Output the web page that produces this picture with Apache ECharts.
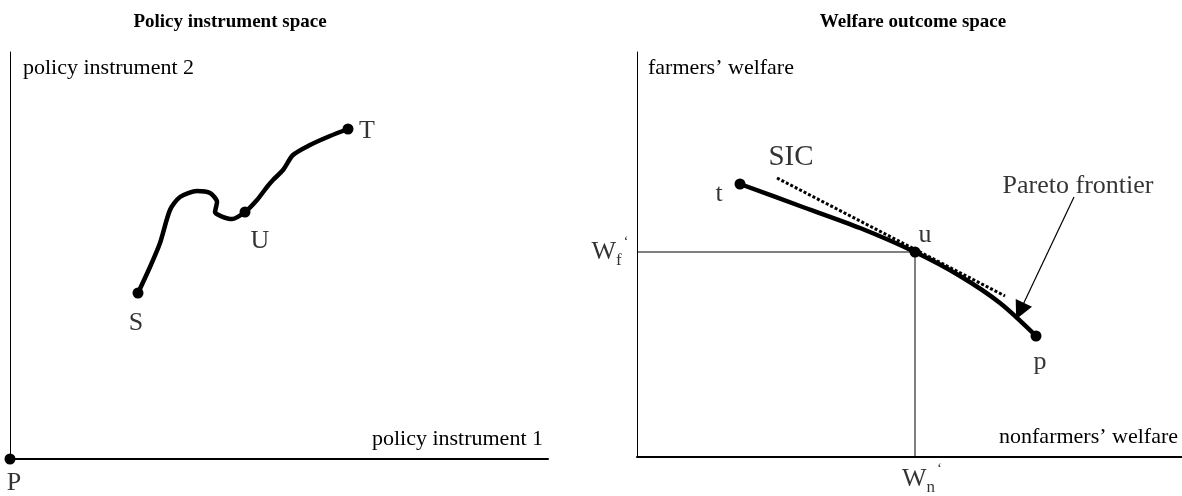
<!DOCTYPE html>
<html>
<head>
<meta charset="utf-8">
<script src="https://cdn.jsdelivr.net/npm/echarts@6/dist/echarts.min.js"></script>
<style>
    html, body { margin: 0; padding: 0; background: #fff; }
    #chart { width: 1182px; height: 496px; }
</style>
</head>
<body>
<div id="chart"></div>
<script>
// left panel: policy instrument space (units measured from origin P)
const policyPath = [
    [128, 166], [140, 192], [150, 216], [160, 249], [170, 262], [187, 268],
    [200, 266], [207, 257], [205, 247], [222, 240], [235, 247], [247, 259],
    [257, 272], [263, 279], [273, 289], [283, 304], [300, 314], [320, 323], [338, 330]
]
const policyDots = [[0, 0], [128, 166], [235, 247], [338, 330]]
const policyLabels = [['P', [4, -24]], ['S', [126, 136]], ['U', [250, 218]], ['T', [357, 328]]]

// right panel: welfare outcome space (units measured from origin)
const paretoFrontier = [[103, 273], [163, 251], [223, 229], [278, 205], [323, 181], [363, 154], [399, 121]]
const welfareDots = [[103, 273], [278, 205], [399, 121]]
const sicLine = [[140, 279], [368, 161]]
const optimumGuide = [[0, 205], [278, 205], [278, 0]]
const arrowLine = [[437, 260], [383, 146]]
const welfareLabels = [['t', [82, 263]], ['u', [288, 222]], ['p', [403, 95]], ['SIC', [154, 300]], ['Pareto frontier', [441, 271]]]

const FONT = 'Liberation Serif'

const chart = echarts.init(document.getElementById('chart'))

function hiddenAxis(idx, max, lineWidth) {
    return {
        type: 'value', gridIndex: idx, min: 0, max: max,
        axisLine: { show: true, onZero: false, lineStyle: { color: '#000', width: lineWidth } },
        axisTick: { show: false }, axisLabel: { show: false }, splitLine: { show: false }
    }
}

function labelSeries(idx, list, size) {
    return {
        type: 'scatter', xAxisIndex: idx, yAxisIndex: idx, symbolSize: 0, clip: false, silent: true,
        data: list.map(d => ({ name: d[0], value: d[1] })),
        label: {
            show: true, position: 'inside', formatter: '{b}',
            color: '#000', fontFamily: FONT, fontSize: size
        }
    }
}

const option = {
    animation: false,
    backgroundColor: '#fff',
    title: [
        { text: 'Policy instrument space', left: 225, top: 8, textAlign: 'center',
          textStyle: { fontFamily: FONT, fontWeight: 'bold', fontSize: 19, color: '#000' } },
        { text: 'Welfare outcome space', left: 908, top: 8, textAlign: 'center',
          textStyle: { fontFamily: FONT, fontWeight: 'bold', fontSize: 19, color: '#000' } }
    ],
    grid: [
        { left: 10, top: 52, width: 538, height: 407 },
        { left: 637, top: 52, width: 545, height: 405 }
    ],
    xAxis: [hiddenAxis(0, 538, 2), hiddenAxis(1, 545, 2)],
    yAxis: [hiddenAxis(0, 407, 1), hiddenAxis(1, 405, 1)],
    graphic: [
        { type: 'text', left: 23, top: 57,
          style: { text: 'policy instrument 2', font: '22px ' + FONT, fill: '#000' } },
        { type: 'text', right: 1182 - 543, top: 428,
          style: { text: 'policy instrument 1', font: '22px ' + FONT, fill: '#000' } },
        { type: 'text', left: 648, top: 57,
          style: { text: 'farmers\u2019 welfare', font: '22px ' + FONT, fill: '#000' } },
        { type: 'text', right: 4, top: 426,
          style: { text: 'nonfarmers\u2019 welfare', font: '22px ' + FONT, fill: '#000' } }
    ],
    series: [
        {
            type: 'line', xAxisIndex: 0, yAxisIndex: 0, data: policyPath, smooth: 0.25,
            symbol: 'none', lineStyle: { color: '#000', width: 4.5 }
        },
        {
            type: 'scatter', xAxisIndex: 0, yAxisIndex: 0, data: policyDots, symbolSize: 11,
            clip: false, itemStyle: { color: '#000', opacity: 1 }
        },
        labelSeries(0, policyLabels, 26),

        {
            type: 'line', xAxisIndex: 1, yAxisIndex: 1, data: optimumGuide,
            symbol: 'none', lineStyle: { color: '#000', width: 1 }
        },
        {
            type: 'line', xAxisIndex: 1, yAxisIndex: 1, data: sicLine,
            symbol: 'none', lineStyle: { color: '#000', width: 3, type: [3, 2] }
        },
        {
            type: 'line', xAxisIndex: 1, yAxisIndex: 1, data: paretoFrontier, smooth: 0.3,
            symbol: 'none', lineStyle: { color: '#000', width: 4.5 }
        },
        {
            type: 'scatter', xAxisIndex: 1, yAxisIndex: 1, data: welfareDots, symbolSize: 11,
            itemStyle: { color: '#000', opacity: 1 }
        },
        {
            type: 'lines', coordinateSystem: 'cartesian2d', xAxisIndex: 1, yAxisIndex: 1,
            symbol: ['none', 'triangle'], symbolSize: [11, 18],
            lineStyle: { color: '#000', width: 1.2, opacity: 1 },
            data: [{ coords: arrowLine }]
        },
        {
            type: 'scatter', xAxisIndex: 1, yAxisIndex: 1, symbolSize: 0, clip: false, silent: true,
            data: [
                { name: 'Wf', value: [-27, 205] },
                { name: 'Wn', value: [285, -22] }
            ],
            label: {
                show: true, position: 'inside', color: '#000', fontFamily: FONT,
                formatter: p => p.name === 'Wf' ? '{w|W}{s|f}{q|\u2018}' : '{w|W}{s|n}{q|\u2018}',
                rich: {
                    w: { fontFamily: FONT, fontSize: 26, lineHeight: 34, color: '#000' },
                    s: { fontFamily: FONT, fontSize: 17, lineHeight: 17, verticalAlign: 'bottom', color: '#000' },
                    q: { fontFamily: FONT, fontSize: 15, lineHeight: 15, verticalAlign: 'top', color: '#000', padding: [0, 0, 0, 2] }
                }
            }
        },
        labelSeries(1, welfareLabels.filter(d => d[0].length <= 1), 26),
        labelSeries(1, welfareLabels.filter(d => d[0] === 'SIC'), 29),
        labelSeries(1, welfareLabels.filter(d => d[0] === 'Pareto frontier'), 26)
    ]
}

chart.setOption(option)
</script>
</body>
</html>
